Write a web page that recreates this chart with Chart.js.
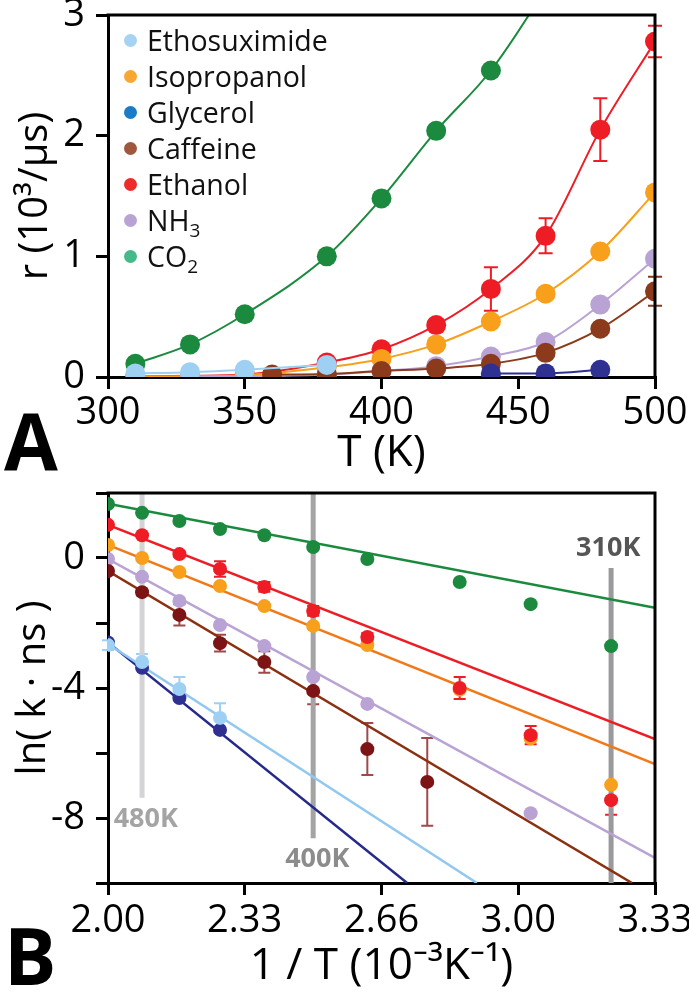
<!DOCTYPE html>
<html>
<head>
<meta charset="utf-8">
<script src="https://cdn.jsdelivr.net/npm/chart.js@4.4.1/dist/chart.umd.min.js"></script>
<style>
  body { margin: 0; background: #fff; width: 689px; height: 993px; position: relative; overflow: hidden; font-family: "Open Sans", sans-serif; }
  canvas { position: absolute; left: 0; }
  #chartA { top: 0; }
  #chartB { top: 480px; }
  .tag { position: absolute; left: 4px; font-weight: 700; font-size: 78px; line-height: 1; color: #000; }
  #legend { position: absolute; left: 124px; top: 22px; font-size: 28.5px; color: #111; }
  .row { height: 36px; display: flex; align-items: center; white-space: nowrap; }
  .dot { width: 13px; height: 13px; border-radius: 50%; margin-right: 10px; flex: none; }
  sub { font-size: 19px; line-height: 0; position: relative; top: 6px; vertical-align: baseline; }
</style>
</head>
<body>
<canvas id="chartA" width="689" height="490"></canvas>
<canvas id="chartB" width="689" height="513"></canvas>
<div class="tag" style="top:401px">A</div>
<div class="tag" style="top:916px">B</div>
<div id="legend"></div>

<script>
// ---- panel A : r versus T ----
const tempA = [310, 330, 350, 360, 380, 400, 420, 440, 460, 480, 500];
const co2A       = [0.11, 0.27, 0.52, null, 1.00, 1.48, 2.04, 2.54, 3.22, 4.00, 5.26];
const ethanolA   = [0.005, 0.01, 0.02, null, 0.12, 0.23, 0.43, 0.73, 1.17, 2.05, 2.78];
const ethanolErrA = [0, 0, 0, 0, 0, 0.02, 0.05, 0.18, 0.145, 0.26, 0.13];
const isopropA   = [0.003, 0.006, 0.015, null, 0.08, 0.15, 0.27, 0.46, 0.69, 1.04, 1.53];
const nh3A       = [null, 0.002, null, null, 0.02, 0.05, 0.09, 0.17, 0.29, 0.60, 0.98];
const caffeineA  = [null, null, null, 0.02, 0.025, 0.05, 0.07, 0.11, 0.20, 0.40, 0.71];
const caffeineErrA = [0, 0, 0, 0, 0, 0, 0, 0, 0, 0.03, 0.12];
const glycerolA  = [null, null, null, null, null, null, null, 0.03, 0.03, 0.06, null];
const ethosuxA   = [0.03, 0.04, 0.06, null, 0.10, null, null, null, null, null, null];

const ticksAx = [300, 350, 400, 450, 500];
const ticksAy = [0, 1, 2, 3];

// legend (colours as printed in the legend)
const legendNames  = ["Ethosuximide", "Isopropanol", "Glycerol", "Caffeine", "Ethanol", "NH<sub>3</sub>", "CO<sub>2</sub>"];
const legendColors = ["#a6d3f3", "#f8a733", "#1a7cc8", "#a0583c", "#ef2a2a", "#b9a2d4", "#45b98a"];

// ---- panel B : ln(k ns) versus 1/T ----
const invT = [2.000, 2.083, 2.174, 2.273, 2.381, 2.500, 2.632, 2.778, 2.857, 3.030, 3.226];
const co2B      = [1.66, 1.39, 1.14, 0.89, 0.70, 0.34, -0.03, null, -0.74, -1.42, -2.71];
const ethanolB  = [1.02, 0.70, 0.12, -0.34, -0.89, -1.63, -2.43, null, -4.00, -5.45, -7.45];
const ethanolErrB = [0, 0, 0.08, 0.24, 0.15, 0.15, 0.12, 0, 0.34, 0.28, 0.45];
const isopropB  = [0.40, 0.00, -0.43, -0.86, -1.48, -2.09, -2.68, null, -4.05, -5.55, -6.98];
const nh3B      = [-0.03, -0.58, -1.32, -2.06, -2.71, -3.66, -4.49, null, null, -7.85, null];
const caffeineB = [-0.40, -1.05, -1.75, -2.62, -3.20, -4.09, -5.88, -6.89, null, null, null];
const caffeineErrB = [0, 0.1, 0.33, 0.26, 0.33, 0.41, 0.8, 1.35, 0, 0, 0];
const glycerolB = [-2.60, -3.38, -4.31, -5.29, null, null, null, null, null, null, null];
const ethosuxB  = [-2.68, -3.20, -4.03, -4.92, null, null, null, null, null, null, null];
const ethosuxErrB = [0.15, 0.25, 0.37, 0.45, 0, 0, 0, 0, 0, 0, 0];

// straight fits, [x, y] at each end
const co2FitB      = [[2.0, 1.67], [3.333, -1.53]];
const ethanolFitB  = [[2.0, 1.02], [3.333, -5.57]];
const isopropFitB  = [[2.0, 0.40], [3.333, -6.34]];
const nh3FitB      = [[2.0, -0.03], [3.333, -9.23]];
const caffeineFitB = [[2.0, -0.40], [3.277, -10.0]];
const ethosuxFitB  = [[2.0, -2.65], [2.899, -10.0]];
const glycerolFitB = [[2.0, -2.60], [2.729, -10.0]];

const ticksBx = [2.0, 2.333, 2.667, 3.0, 3.333];
const tickLabelsBx = ["2.00", "2.33", "2.66", "3.00", "3.33"];

// temperature markers
const refNames  = ["480K", "400K", "310K"];
const refX      = [2.083, 2.5, 3.226];
const refTop    = [2, 2, -0.31];
const refBottom = [-7.38, -8.62, -10];
const refLineColors = ["#d4d4d6", "#a4a4a6", "#9a9a9c"];
const refLabelX = [2.092, 2.51, 3.219];
const refLabelY = [-8.05, -9.26, 0.3];
const refLabelColors = ["#a4a4a4", "#8c8c8c", "#555555"];

Chart.defaults.font.family = "'Open Sans', sans-serif";
Chart.defaults.color = "#000";

function pairs(xs, ys, errs) {
  const out = [];
  xs.forEach((x, i) => {
    if (ys[i] !== null) out.push({ x: x, y: ys[i], e: errs ? errs[i] : 0 });
  });
  return out;
}

function seg(fit) {
  return fit.map(p => ({ x: p[0], y: p[1] }));
}

const errorBars = {
  id: "errorBars",
  beforeDatasetsDraw(chart) {
    const ctx = chart.ctx;
    const ys = chart.scales.y;
    chart.data.datasets.forEach((ds, di) => {
      if (!ds.errColor) return;
      const meta = chart.getDatasetMeta(di);
      ctx.save();
      ctx.strokeStyle = ds.errColor;
      ctx.lineWidth = 2;
      meta.data.forEach((pt, i) => {
        const d = ds.data[i];
        if (!d.e) return;
        const y1 = ys.getPixelForValue(d.y + d.e);
        const y2 = ys.getPixelForValue(d.y - d.e);
        ctx.beginPath();
        ctx.moveTo(pt.x, y1); ctx.lineTo(pt.x, y2);
        ctx.moveTo(pt.x - ds.capW, y1); ctx.lineTo(pt.x + ds.capW, y1);
        ctx.moveTo(pt.x - ds.capW, y2); ctx.lineTo(pt.x + ds.capW, y2);
        ctx.stroke();
      });
      ctx.restore();
    });
  }
};

const frame = {
  id: "frame",
  afterDraw(chart) {
    const a = chart.chartArea, ctx = chart.ctx;
    ctx.save();
    ctx.strokeStyle = "#000";
    ctx.lineWidth = 3;
    ctx.beginPath();
    ctx.moveTo(a.left - 1.5, a.top);
    ctx.lineTo(a.right, a.top);
    ctx.lineTo(a.right, a.bottom + 1.5);
    ctx.stroke();
    ctx.restore();
  }
};

const refLabels = {
  id: "refLabels",
  afterDatasetsDraw(chart) {
    const ctx = chart.ctx;
    ctx.save();
    ctx.font = "bold 27px 'Open Sans', sans-serif";
    ctx.textAlign = "center";
    ctx.textBaseline = "middle";
    refNames.forEach((t, i) => {
      ctx.fillStyle = refLabelColors[i];
      ctx.fillText(t, chart.scales.x.getPixelForValue(refLabelX[i]), chart.scales.y.getPixelForValue(refLabelY[i]));
    });
    ctx.restore();
  }
};

function axis(min, max, title, titleSize, titlePad, size, sizeKey, tickPad) {
  return {
    type: "linear", min: min, max: max,
    ticks: { font: { size: 38 }, color: "#000", padding: tickPad, autoSkip: false, maxRotation: 0 },
    grid: { drawOnChartArea: false, drawTicks: true, tickLength: 12, tickColor: "#000", tickWidth: 3, color: "#000", lineWidth: 3 },
    border: { display: true, color: "#000", width: 3 },
    title: { display: true, text: title, font: { size: titleSize }, color: "#000", padding: titlePad },
    afterFit: s => {
      s[sizeKey] = size;
      // keep the plot box where it is, whatever the label overhang
      s.paddingTop = 0; s.paddingBottom = 0; s.paddingLeft = 0; s.paddingRight = 0;
    }
  };
}

// ---- chart A ----
function lineSet(label, data, color, order, errColor) {
  return {
    label: label, data: data, borderColor: color, backgroundColor: color,
    borderWidth: 2, pointRadius: 10, pointHoverRadius: 10, pointBorderWidth: 0,
    showLine: true, cubicInterpolationMode: "monotone", order: order,
    errColor: errColor, capW: 7
  };
}

const xA = axis(300, 500, "T (K)", 44, { top: 0, bottom: 10 }, 113, "height", 1);
xA.afterBuildTicks = s => { s.ticks = ticksAx.map(v => ({ value: v })); };
const yA = axis(0, 3, "r (10³/μs)", 40, { top: 12, bottom: 0 }, 108, "width", 11);
yA.afterBuildTicks = s => { s.ticks = ticksAy.map(v => ({ value: v })); };

new Chart(document.getElementById("chartA"), {
  type: "scatter",
  data: {
    datasets: [
      lineSet("Glycerol", pairs(tempA, glycerolA), "#2e3191", 1),
      lineSet("Ethosuximide", pairs(tempA, ethosuxA), "#9ed0f3", 2),
      lineSet("Caffeine", pairs(tempA, caffeineA, caffeineErrA), "#8b3a1c", 3, "#8b3a1c"),
      lineSet("NH3", pairs(tempA, nh3A), "#b9a2d4", 4),
      lineSet("Isopropanol", pairs(tempA, isopropA), "#f8a01c", 5),
      lineSet("Ethanol", pairs(tempA, ethanolA, ethanolErrA), "#ee1c25", 6, "#ee1c25"),
      lineSet("CO2", pairs(tempA, co2A), "#1b8a3f", 7)
    ]
  },
  options: {
    responsive: false, animation: false,
    layout: { padding: { top: 15, right: 34, left: 0, bottom: 0 }, autoPadding: false },
    plugins: { legend: { display: false }, tooltip: { enabled: false } },
    scales: { x: xA, y: yA }
  },
  plugins: [errorBars, frame]
});

// ---- chart B ----
function pointSet(label, data, color, order, errColor) {
  return {
    label: label, data: data, backgroundColor: color, borderColor: color,
    pointRadius: 7, pointHoverRadius: 7, pointBorderWidth: 0, showLine: false,
    order: order, errColor: errColor, capW: 6
  };
}
function fitSet(data, color, order) {
  return {
    data: data, borderColor: color, borderWidth: 2.5, pointRadius: 0,
    showLine: true, fill: false, order: order
  };
}

const datasetsB = [
  pointSet("Ethosuximide", pairs(invT, ethosuxB, ethosuxErrB), "#9ed0f3", 1, "#9ed0f3"),
  pointSet("Glycerol", pairs(invT, glycerolB), "#2e3191", 2),
  pointSet("Ethanol", pairs(invT, ethanolB, ethanolErrB), "#ee1c25", 3, "#ee1c25"),
  pointSet("Isopropanol", pairs(invT, isopropB), "#f8a01c", 4),
  pointSet("Caffeine", pairs(invT, caffeineB, caffeineErrB), "#7c1416", 5, "#a0484a"),
  pointSet("NH3", pairs(invT, nh3B), "#b9a2d4", 6),
  pointSet("CO2", pairs(invT, co2B), "#1b8a3f", 7),
  fitSet(seg(co2FitB), "#1b8a3f", 10),
  fitSet(seg(ethanolFitB), "#ee1c25", 11),
  fitSet(seg(isopropFitB), "#f07a1a", 12),
  fitSet(seg(nh3FitB), "#b9a2d4", 13),
  fitSet(seg(caffeineFitB), "#8b3010", 14),
  fitSet(seg(ethosuxFitB), "#90c8f0", 15),
  fitSet(seg(glycerolFitB), "#252a8a", 16)
];
refX.forEach((x, i) => {
  datasetsB.push({
    data: [{ x: x, y: refTop[i] }, { x: x, y: refBottom[i] }],
    borderColor: refLineColors[i], borderWidth: 5, pointRadius: 0, showLine: true, order: 30
  });
});

const xB = axis(2.0, 3.333, "1 / T (10⁻³K⁻¹)", 44, { top: 0, bottom: 0 }, 110, "height", 3);
xB.afterBuildTicks = s => { s.ticks = ticksBx.map(v => ({ value: v })); };
xB.ticks.callback = (v, i) => tickLabelsBx[i];
const yB = axis(-10, 2, "ln( k · ns )", 40, { top: 10, bottom: 0 }, 108, "width", 11);
yB.ticks.stepSize = 2;
yB.ticks.callback = v => (v % 4 === 0 ? String(v) : "");

new Chart(document.getElementById("chartB"), {
  type: "scatter",
  data: { datasets: datasetsB },
  options: {
    responsive: false, animation: false,
    layout: { padding: { top: 13, right: 34, left: 0, bottom: 0 }, autoPadding: false },
    plugins: { legend: { display: false }, tooltip: { enabled: false } },
    scales: { x: xB, y: yB }
  },
  plugins: [errorBars, frame, refLabels]
});

// legend for panel A
const legend = document.getElementById("legend");
legendNames.forEach((n, i) => {
  const row = document.createElement("div");
  row.className = "row";
  row.innerHTML = '<span class="dot" style="background:' + legendColors[i] + '"></span><span>' + n + "</span>";
  legend.appendChild(row);
});
</script>
</body>
</html>
